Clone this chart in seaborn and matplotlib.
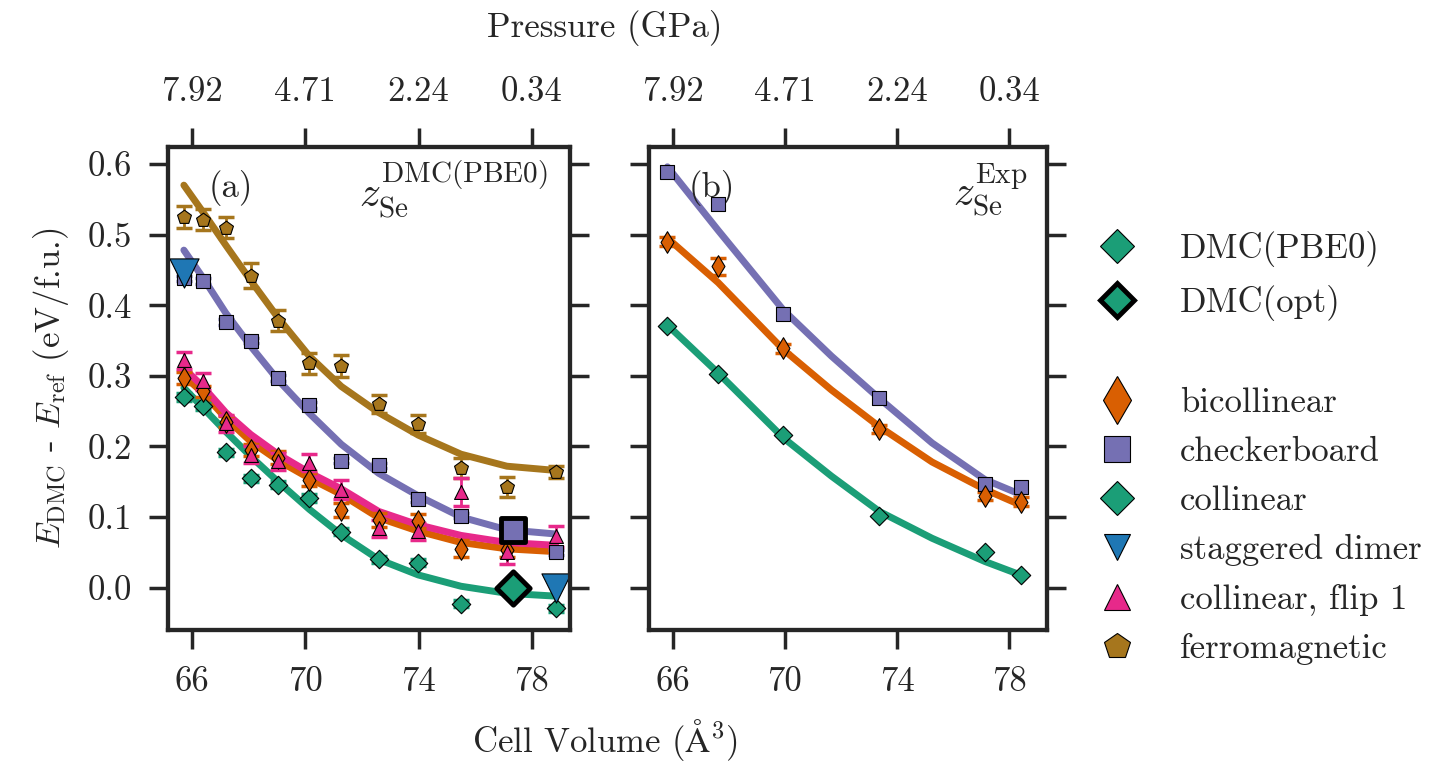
import numpy as np
import matplotlib
matplotlib.use("Agg")
import matplotlib.pyplot as plt
from matplotlib.lines import Line2D
import seaborn as sns

# ---- data ----
# panel (a): z_Se from DMC(PBE0)
vol_a = [65.71, 66.40, 67.19, 68.07, 69.04, 70.14, 71.27, 72.59, 73.99, 75.50, 77.12, 78.85]

ferro_a = [0.525, 0.521, 0.510, 0.442, 0.378, 0.318, 0.314, 0.260, 0.232, 0.169, 0.143, 0.164]
ferro_a_err = [0.016, 0.015, 0.015, 0.018, 0.015, 0.015, 0.015, 0.013, 0.013, 0.014, 0.014, 0.008]
ferro_a_fit = [0.570, 0.531, 0.485, 0.435, 0.382, 0.328, 0.285, 0.248, 0.216, 0.189, 0.172, 0.166]

checker_a = [0.438, 0.434, 0.376, 0.350, 0.297, 0.259, 0.180, 0.173, 0.125, 0.102, np.nan, 0.050]
checker_a_err = [0.004] * 12
checker_a_fit = [0.478, 0.438, 0.389, 0.342, 0.294, 0.247, 0.203, 0.162, 0.130, 0.100, 0.082, 0.076]

coll_a = [0.270, 0.257, 0.192, 0.155, 0.146, 0.127, 0.079, 0.040, 0.035, -0.023, np.nan, -0.029]
coll_a_err = [0.005] * 12
coll_a_fit = [0.283, 0.254, 0.221, 0.186, 0.150, 0.111, 0.075, 0.040, 0.018, 0.002, -0.008, -0.012]

bicol_a = [0.297, 0.278, 0.235, 0.195, 0.184, 0.153, 0.110, 0.096, 0.094, 0.055, 0.054, np.nan]
bicol_a_err = [0.008, 0.008, 0.008, 0.009, 0.009, 0.009, 0.010, 0.010, 0.010, 0.012, 0.010, 0.010]
bicol_a_fit = [0.300, 0.275, 0.240, 0.207, 0.180, 0.155, 0.132, 0.099, 0.080, 0.064, 0.055, 0.051]

flip_a = [0.322, 0.292, 0.233, 0.188, 0.179, 0.177, 0.139, 0.084, 0.080, 0.135, 0.051, 0.073]
flip_a_err = [0.012, 0.012, 0.012, 0.012, 0.012, 0.012, 0.013, 0.012, 0.012, 0.020, 0.017, 0.015]
flip_a_fit = [0.311, 0.284, 0.248, 0.217, 0.189, 0.163, 0.140, 0.108, 0.089, 0.074, 0.064, 0.060]

stag_vol = [65.71, 78.85]
stag_e = [0.446, 0.000]

opt_vol = [77.32]
opt_checker = [0.082]
opt_coll = [0.000]

# panel (b): experimental z_Se
vol_b = [65.81, 67.62, 69.95, 73.37, 77.14, 78.41]
checker_b = [0.588, 0.543, 0.388, 0.268, 0.147, 0.143]
bicol_b = [0.490, 0.455, 0.339, 0.225, 0.130, 0.122]
bicol_b_err = [0.006, 0.0125, 0.006, 0.006, 0.006, 0.006]
coll_b = [0.371, 0.302, 0.216, 0.101, 0.051, 0.018]

vol_b_fit = [65.81, 67.62, 69.95, 71.66, 73.37, 75.25, 77.14, 78.41]
checker_b_fit = [0.596, 0.506, 0.393, 0.328, 0.268, 0.205, 0.153, 0.132]
bicol_b_fit = [0.495, 0.432, 0.337, 0.280, 0.228, 0.178, 0.139, 0.117]
coll_b_fit = [0.372, 0.304, 0.212, 0.158, 0.108, 0.070, 0.037, 0.018]

vol_ticks = [66, 70, 74, 78]
pressure_labels = ["7.92", "4.71", "2.24", "0.34"]

# colours (Dark2 + tab blue)
c_green = "#1b9e77"
c_orange = "#d95f02"
c_purple = "#7570b3"
c_pink = "#e7298a"
c_brown = "#a6761d"
c_blue = "#1f77b4"

sns.set_style("ticks")
plt.rcParams["font.family"] = "serif"
plt.rcParams["font.serif"] = ["cmr10", "DejaVu Serif"]
plt.rcParams["mathtext.fontset"] = "cm"
plt.rcParams["axes.unicode_minus"] = False
plt.rcParams["axes.formatter.use_mathtext"] = True
plt.rcParams["font.size"] = 25

dark = "#262626"
fs = 25
ms = 9.6      # regular marker size (pt)
lw_fit = 5

fig = plt.figure(figsize=(14.3, 7.61), dpi=100)
ax_a = fig.add_axes([0.1175, 0.1721, 0.2811, 0.6347])
ax_b = fig.add_axes([0.4538, 0.1721, 0.2783, 0.6347])


def fit_line(ax, x, y, color):
    sns.lineplot(x=x, y=y, ax=ax, color=color, lw=lw_fit, sort=False,
                 estimator=None, zorder=2)


def points(ax, x, y, err, color, marker, size=ms):
    if err is not None:
        ax.errorbar(x, y, yerr=err, fmt="none", ecolor=color, elinewidth=2,
                    capsize=6, capthick=2.5, zorder=3)
    sns.scatterplot(x=x, y=y, ax=ax, marker=marker, s=size ** 2, color=color,
                    edgecolor="black", linewidth=0.8, zorder=4)


# panel (a)
fit_line(ax_a, vol_a, ferro_a_fit, c_brown)
fit_line(ax_a, vol_a, checker_a_fit, c_purple)
fit_line(ax_a, vol_a, coll_a_fit, c_green)
fit_line(ax_a, vol_a, bicol_a_fit, c_orange)
fit_line(ax_a, vol_a, flip_a_fit, c_pink)

points(ax_a, vol_a, ferro_a, ferro_a_err, c_brown, "p", 10.5)
points(ax_a, vol_a, checker_a, checker_a_err, c_purple, "s")
points(ax_a, vol_a, coll_a, coll_a_err, c_green, "D", 9.4)
points(ax_a, vol_a, bicol_a, bicol_a_err, c_orange, "d", 11)
points(ax_a, vol_a, flip_a, flip_a_err, c_pink, "^", 10)

sns.scatterplot(x=stag_vol, y=stag_e, ax=ax_a, marker="v", s=21 ** 2,
                color=c_blue, edgecolor="black", linewidth=0.8, zorder=6)
sns.scatterplot(x=opt_vol, y=opt_checker, ax=ax_a, marker="s", s=17 ** 2,
                color=c_purple, edgecolor="black", linewidth=3.5, zorder=6)
sns.scatterplot(x=opt_vol, y=opt_coll, ax=ax_a, marker="D", s=17 ** 2,
                color=c_green, edgecolor="black", linewidth=3.5, zorder=6)

# panel (b)
fit_line(ax_b, vol_b_fit, checker_b_fit, c_purple)
fit_line(ax_b, vol_b_fit, bicol_b_fit, c_orange)
fit_line(ax_b, vol_b_fit, coll_b_fit, c_green)
points(ax_b, vol_b, checker_b, None, c_purple, "s")
points(ax_b, vol_b, bicol_b, bicol_b_err, c_orange, "d", 11)
points(ax_b, vol_b, coll_b, None, c_green, "D", 9.4)

for ax in (ax_a, ax_b):
    ax.set_xlim(65.15, 79.35)
    ax.set_ylim(-0.06, 0.624)
    ax.set_xticks(vol_ticks)
    ax.set_xticklabels([str(v) for v in vol_ticks])
    ax.set_yticks([0.0, 0.1, 0.2, 0.3, 0.4, 0.5, 0.6])
    ax.set_yticklabels(["0.0", "0.1", "0.2", "0.3", "0.4", "0.5", "0.6"])
    for sp in ax.spines.values():
        sp.set_linewidth(3)
        sp.set_color(dark)
        sp.set_visible(True)
    ax.tick_params(axis="both", direction="out", length=14, width=2.5,
                   colors=dark, labelsize=fs, pad=12, right=True, left=True)
    top = ax.twiny()
    top.set_xlim(ax.get_xlim())
    top.set_xticks(vol_ticks)
    top.set_xticklabels(pressure_labels)
    top.tick_params(axis="x", direction="out", length=14, width=2.5,
                    colors=dark, labelsize=fs, pad=14)
    for sp in top.spines.values():
        sp.set_linewidth(3)
        sp.set_color(dark)

ax_b.tick_params(axis="y", labelleft=False)

ax_a.set_ylabel(r"$E_{\rm DMC}$ - $E_{\rm ref}$ (eV/f.u.)", fontsize=fs,
                color=dark, labelpad=12)

ax_a.text(0.10, 0.915, "(a)", transform=ax_a.transAxes, fontsize=fs,
          ha="left", va="center", color=dark)
ax_b.text(0.10, 0.915, "(b)", transform=ax_b.transAxes, fontsize=fs,
          ha="left", va="center", color=dark)
ax_a.text(0.945, 0.91, r"$z_{\rm Se}^{\rm DMC(PBE0)}$", transform=ax_a.transAxes,
          fontsize=30, ha="right", va="center", color=dark)
ax_b.text(0.952, 0.91, r"$z_{\rm Se}^{\rm Exp}$", transform=ax_b.transAxes,
          fontsize=30, ha="right", va="center", color=dark)

fig.text(0.423, 0.963, "Pressure (GPa)", fontsize=fs, ha="center", va="center",
         color=dark)
fig.text(0.423, 0.028, r"Cell Volume ($\mathrm{\AA}^3$)", fontsize=fs,
         ha="center", va="center", color=dark)

# legend
big = 19
dia = 17
handles = [
    Line2D([], [], ls="none", marker="D", ms=dia, color=c_green,
           mec="black", mew=0.8),
    Line2D([], [], ls="none", marker="D", ms=dia, color=c_green,
           mec="black", mew=3.5),
    Line2D([], [], ls="none", marker="none"),
    Line2D([], [], ls="none", marker="d", ms=big + 5, color=c_orange,
           mec="black", mew=0.8),
    Line2D([], [], ls="none", marker="s", ms=big, color=c_purple,
           mec="black", mew=0.8),
    Line2D([], [], ls="none", marker="D", ms=dia, color=c_green,
           mec="black", mew=0.8),
    Line2D([], [], ls="none", marker="v", ms=big, color=c_blue,
           mec="black", mew=0.8),
    Line2D([], [], ls="none", marker="^", ms=big, color=c_pink,
           mec="black", mew=0.8),
    Line2D([], [], ls="none", marker="p", ms=big, color=c_brown,
           mec="black", mew=0.8),
]
labels = ["DMC(PBE0)", "DMC(opt)", " ", "bicollinear", "checkerboard",
          "collinear", "staggered dimer", "collinear, flip 1", "ferromagnetic"]
fig.legend(handles, labels, loc="center left", bbox_to_anchor=(0.762, 0.411),
           frameon=False, fontsize=fs, handlelength=1.6, handletextpad=1.0,
           labelspacing=0.5, borderpad=0, borderaxespad=0, labelcolor=dark)

fig.savefig("out.png", dpi=100)
